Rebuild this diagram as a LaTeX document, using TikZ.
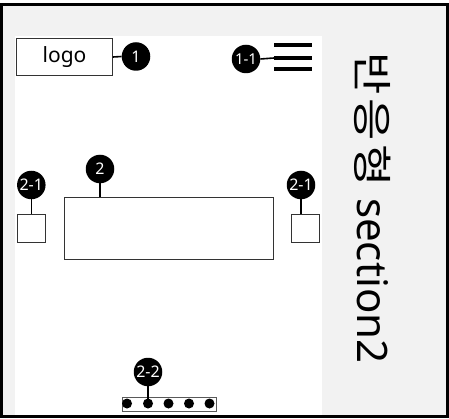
\documentclass[tikz,border=0pt]{standalone}
\usepackage{graphicx}
\usepackage{fontspec}
\setmainfont{Noto Sans}
\newfontfamily\krfont{Noto Sans CJK KR}
\newcommand\hgl[1]{\scalebox{1.15}[1]{#1}}
\definecolor{bggray}{HTML}{F2F2F2}
\definecolor{boxline}{HTML}{333333}
\begin{document}
\begin{tikzpicture}[x=1pt,y=-1pt,
  badge/.style={circle,fill=black,text=white,inner sep=0pt,minimum size=28.5pt,
    font=\bfseries\fontsize{16}{16}\selectfont},
  wbox/.style={draw=boxline,line width=0.9pt,fill=white,inner sep=0pt},
  conn/.style={line width=1.6pt},
  hbar/.style={fill=black,inner sep=0pt,minimum width=38pt,minimum height=4pt},
  dotn/.style={circle,fill=black,inner sep=0pt,minimum size=10pt}]
\useasboundingbox (0,0) rectangle (449,419);
% frame and panel
\draw[line width=2.7pt,fill=bggray] (1.5,4.7) rectangle (447.8,416.5);
\fill[white] (15,36) rectangle (322,415.2);
% header
\node[wbox,minimum width=96pt,minimum height=37pt,font=\fontsize{21}{21}\selectfont] (logo) at (64.5,57) {logo};
\node[badge] (b1) at (136,56.5) {1};
\draw[conn] (logo.east) -- (b1.west);
\node[hbar] (h1) at (293,45) {};
\node[hbar] (h2) at (293,58) {};
\node[hbar] (h3) at (293,69) {};
\node[badge,font=\bfseries\fontsize{15}{15}\selectfont] (b11) at (246,59) {1-1};
\draw[conn] (b11.east) -- (h2.west);
% section 2
\node[wbox,minimum width=209pt,minimum height=62pt] (big) at (168.5,228) {};
\node[badge] (b2) at (100,169) {2};
\draw[conn] (b2.south) -- (b2.south |- big.north);
\node[wbox,minimum size=28pt] (sl) at (31.3,228) {};
\node[badge] (b21l) at (31.3,185) {2-1};
\draw[conn] (b21l.south) -- (sl.north);
\node[wbox,minimum size=28pt] (sr) at (305.5,228) {};
\node[badge] (b21r) at (301,185) {2-1};
\draw[conn] (b21r.south) -- (b21r.south |- sr.north);
% pager
\node[draw=black!65,line width=0.9pt,fill=white,minimum width=94pt,minimum height=14pt,inner sep=0pt] (bar) at (169,404) {};
\foreach \i/\xx in {1/127,2/148,3/168.5,4/189,5/209.5}
  \node[dotn] (d\i) at (\xx,403.5) {};
\node[badge] (b22) at (148,372) {2-2};
\draw[conn] (b22.south) -- (d2.center);
% vertical title
\node[rotate=-90,anchor=base west,inner sep=0pt,font=\fontsize{42}{42}\selectfont] (title) at (357,52)
  {{\krfont\fontsize{40}{41}\selectfont \hgl{반}\kern4pt\hgl{응}\kern4pt\hgl{형}}\kern11pt section2};
\end{tikzpicture}
\end{document}
